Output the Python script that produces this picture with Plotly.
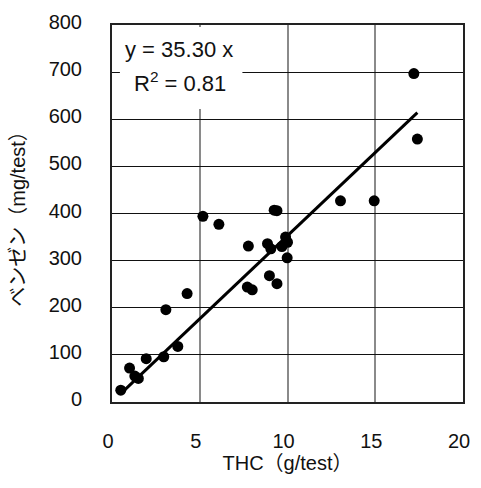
import plotly.graph_objects as go

thc = [0.5, 1.0, 1.3, 1.5, 1.95, 2.95, 3.07, 3.75, 4.28, 5.18, 6.09, 7.77, 7.71, 7.99,
       8.86, 9.05, 8.97, 9.4, 9.24, 9.4, 9.68, 9.89, 10.0, 9.98, 13.02, 14.94, 17.2, 17.4]
benzene = [25, 72, 55, 50, 92, 96, 196, 118, 230, 394, 377, 331, 244, 238,
           336, 325, 268, 251, 407, 406, 330, 350, 339, 306, 427, 427, 697, 558]
slope = 35.30
r2 = 0.81
x_ticks = [0, 5, 10, 15, 20]
x_tick_text = ["0", "5", "10", "15", "20"]
y_ticks = [0, 100, 200, 300, 400, 500, 600, 700, 800]
x_title = "THC（g/test）"
y_title = "ベンゼン（mg/test）"

FONT = "Liberation Sans, Arial, Noto Sans CJK JP, sans-serif"

xmin, xmax = min(thc), max(thc)
fig = go.Figure()
fig.add_trace(go.Scatter(x=[xmin, xmax], y=[slope * xmin, slope * xmax], mode="lines",
                         line=dict(color="black", width=3), hoverinfo="skip"))
fig.add_trace(go.Scatter(x=thc, y=benzene, mode="markers",
                         marker=dict(color="black", size=11)))

fig.add_shape(type="rect", xref="x", yref="y", x0=0.45, x1=7.43, y0=622, y1=796,
              fillcolor="white", line=dict(width=0), layer="above")
fig.add_annotation(xref="x", yref="y", x=3.8, y=748,
                   text=f"y = {slope:.2f} x", showarrow=False,
                   font=dict(family=FONT, size=22, color="#111"))
fig.add_annotation(xref="x", yref="y", x=3.88, y=678,
                   text=f"R<sup>2</sup> = {r2:.2f}", showarrow=False,
                   font=dict(family=FONT, size=22, color="#111"))
# y-axis title placed as a rotated annotation left of the tick labels
fig.add_annotation(xref="paper", yref="paper", x=-0.27, y=0.5, xanchor="center",
                   yanchor="middle", text=y_title, textangle=-90, showarrow=False,
                   font=dict(family=FONT, size=20, color="#111"))

fig.update_layout(
    width=481, height=488,
    margin=dict(l=112, r=11, t=20, b=86),
    paper_bgcolor="white", plot_bgcolor="white",
    showlegend=False,
    font=dict(family=FONT, size=20, color="#111"),
)
fig.update_xaxes(range=[0, 20], tickvals=x_ticks, ticktext=x_tick_text, showgrid=True,
                 gridcolor="#8a8a8a", gridwidth=1.5, showline=True, linecolor="#222",
                 linewidth=2, mirror=True, ticks="", ticklabelstandoff=20,
                 ticklabelshift=-4, zeroline=False,
                 title=dict(text=x_title, standoff=5, font=dict(size=20)))
fig.update_yaxes(range=[0, 800], tickvals=y_ticks, showgrid=True, gridcolor="#111",
                 gridwidth=1, showline=True, linecolor="#222", linewidth=2, mirror=True,
                 ticks="", ticklabelstandoff=24, ticklabelshift=-3, zeroline=False)

fig.write_html("out.html", config={"displayModeBar": False},
               post_script="document.body.style.margin='0';document.body.style.overflow='hidden';")
